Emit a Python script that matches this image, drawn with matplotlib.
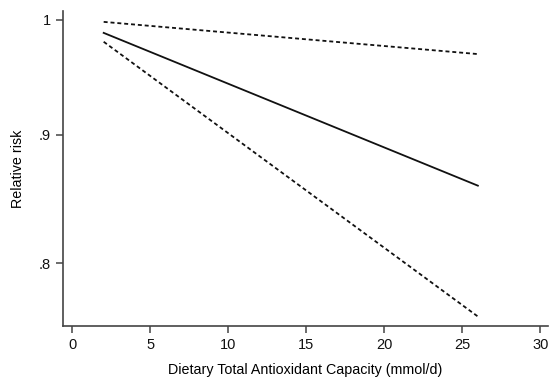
import matplotlib.pyplot as plt
from matplotlib.ticker import FixedLocator, FixedFormatter, NullLocator

plt.rcParams['font.family'] = ['Liberation Sans', 'DejaVu Sans']

# dose-response: relative risk by dietary TAC (mmol/d)
dtac = [2, 26]
rr = [0.988, 0.859]
rr_upper = [0.998, 0.969]
rr_lower = [0.980, 0.762]

y_ticks = [0.8, 0.9, 1.0]
y_labels = ['.8', '.9', '1']
x_ticks = [0, 5, 10, 15, 20, 25, 30]

fig = plt.figure(figsize=(5.52, 3.79), dpi=100)
ax = fig.add_axes([0.1141, 0.1398, 0.8787, 0.8312])

ax.plot(dtac, rr, color='#111111', lw=1.3)
ax.plot(dtac, rr_upper, color='#111111', lw=1.3, ls=(0, (2.2, 1.6)))
ax.plot(dtac, rr_lower, color='#111111', lw=1.3, ls=(0, (2.2, 1.6)))

ax.set_yscale('log')
ax.yaxis.set_major_locator(FixedLocator(y_ticks))
ax.yaxis.set_major_formatter(FixedFormatter(y_labels))
ax.yaxis.set_minor_locator(NullLocator())
ax.set_ylim(0.7554, 1.008)
ax.set_xlim(-0.61, 30.5)
ax.set_xticks(x_ticks)

for s in ['top', 'right']:
    ax.spines[s].set_visible(False)
for s in ['left', 'bottom']:
    ax.spines[s].set_color('#444444')
    ax.spines[s].set_linewidth(1.2)
ax.tick_params(axis='both', colors='#444444', labelcolor='#111111', labelsize=10.5,
               length=5, width=1.1, direction='out')
ax.tick_params(axis='y', labelrotation=0)

ax.set_xlabel('Dietary Total Antioxidant Capacity (mmol/d)', fontsize=10.3, labelpad=8)
ax.set_ylabel('Relative risk', fontsize=10.3, labelpad=10)

fig.savefig('out.png', dpi=100)
